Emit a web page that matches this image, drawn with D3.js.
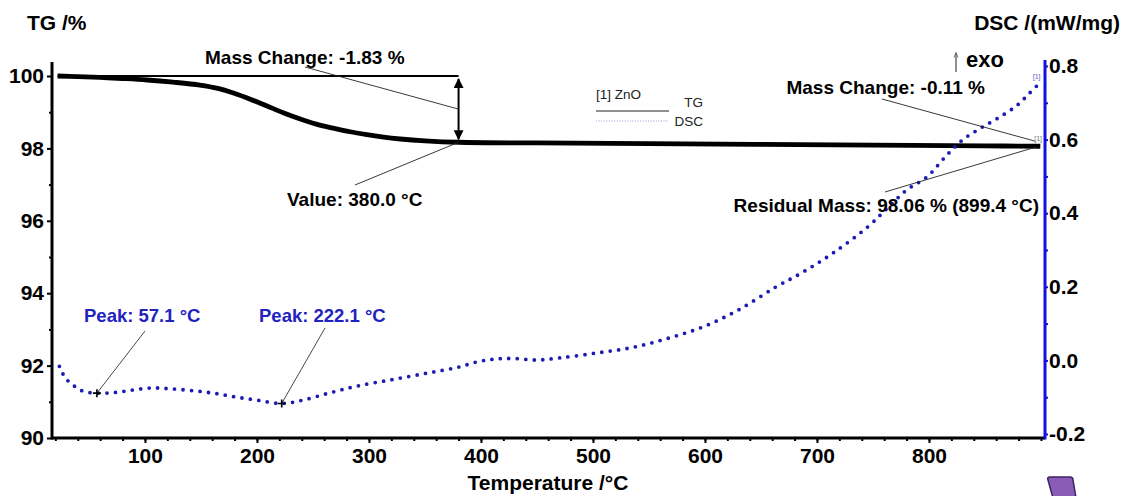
<!DOCTYPE html>
<html>
<head>
<meta charset="utf-8">
<script src="https://cdn.jsdelivr.net/npm/d3@7"></script>
<style>
body{margin:0;background:#fff}
text{font-family:"Liberation Sans",Arial,sans-serif}
</style>
</head>
<body>
<div id="chart"></div>
<script>
// TG curve, mass in %
var tgTemp=[22,40,60,80,102,125,149,165,179,194,209,224,238,253,268,283,298,313,328,350,380,450,550,650,750,850,899.4]
var tgMass=[100.0,99.98,99.96,99.93,99.89,99.83,99.75,99.66,99.53,99.36,99.17,98.98,98.82,98.67,98.56,98.46,98.38,98.31,98.26,98.21,98.17,98.15,98.13,98.11,98.09,98.07,98.06]

// DSC curve, mW/mg
var dscTemp=[23.6,29,37,45,57.1,74,90,106,122,142,161,180,200,222.1,241,264,289,321,353,379,398,414,430,450,471,503,535,567,599,631,663,687,714,745,763,780,798,816,830,846,863,879,890,898]
var dscVal=[-0.016,-0.048,-0.070,-0.084,-0.089,-0.087,-0.080,-0.075,-0.077,-0.082,-0.089,-0.099,-0.108,-0.117,-0.108,-0.089,-0.070,-0.052,-0.034,-0.019,-0.003,0.004,0.005,0.001,0.007,0.020,0.035,0.060,0.092,0.139,0.199,0.239,0.291,0.362,0.414,0.463,0.498,0.558,0.599,0.631,0.661,0.694,0.727,0.751]

// axis ticks
var tempTicks=[100,200,300,400,500,600,700,800]
var tgTicks=[90,92,94,96,98,100]
var dscTicks=[-0.2,0.0,0.2,0.4,0.6,0.8]

// evaluated points
var peakTemp=[57.1,222.1]
var peakVal=[-0.089,-0.117]
var stepStart=100.0, stepEnd=98.17, stepTemp=380.0
var residual=98.06, residualTemp=899.4

var W=1124,H=496
var svg=d3.select("#chart").append("svg").attr("width",W).attr("height",H)

var x=d3.scaleLinear().domain([17,903.6]).range([52,1045])
var yTG=d3.scaleLinear().domain([90,100]).range([438,76])
var yDSC=d3.scaleLinear().domain([-0.2,0.8]).range([434,66])

var blue="#1c1cb4"

var defs=svg.append("defs")
defs.append("marker").attr("id","ah").attr("viewBox","0 0 10 10").attr("refX",9).attr("refY",5)
  .attr("markerWidth",5).attr("markerHeight",5).attr("orient","auto-start-reverse")
  .append("path").attr("d","M0,0L10,5L0,10z").attr("fill","#000")
defs.append("marker").attr("id","ahg").attr("viewBox","0 0 10 10").attr("refX",9).attr("refY",5)
  .attr("markerWidth",4).attr("markerHeight",5).attr("orient","auto")
  .append("path").attr("d","M0,1L10,5L0,9").attr("fill","none").attr("stroke","#555").attr("stroke-width",1.5)

// titles
svg.append("text").attr("x",27).attr("y",30).text("TG /%")
  .style("font-size","21px").style("font-weight","bold")
svg.append("text").attr("x",1120).attr("y",30).attr("text-anchor","end").text("DSC /(mW/mg)")
  .style("font-size","21px").style("font-weight","bold")
svg.append("text").attr("x",548).attr("y",490).attr("text-anchor","middle").text("Temperature /°C")
  .style("font-size","21px").style("font-weight","bold")

// exo arrow
svg.append("line").attr("x1",956).attr("y1",72).attr("x2",956).attr("y2",53)
  .attr("stroke","#555").attr("stroke-width",1.3).attr("marker-end","url(#ahg)")
svg.append("text").attr("x",966).attr("y",67).text("exo")
  .style("font-size","22px").style("font-weight","bold")

// axes
function styleAxis(g,col){
  g.select(".domain").remove()
  g.selectAll(".tick line").attr("stroke",col).attr("stroke-width",2)
  g.selectAll(".tick text").attr("fill","#000").style("font-size","21px").style("font-weight","bold")
    .style("font-family","'Liberation Sans',Arial,sans-serif")
}

var gl=svg.append("g").attr("transform","translate(52,0)")
  .call(d3.axisLeft(yTG).tickValues(tgTicks).tickSize(5).tickPadding(3).tickFormat(d3.format("d")))
styleAxis(gl,"#000")
var glm=svg.append("g").attr("transform","translate(52,0)")
  .call(d3.axisLeft(yTG).tickValues(d3.range(91,100,2)).tickSize(3).tickFormat(""))
styleAxis(glm,"#000")

var gb=svg.append("g").attr("transform","translate(0,438)")
  .call(d3.axisBottom(x).tickValues(tempTicks).tickSize(5).tickPadding(5))
styleAxis(gb,"#000")
var gbm=svg.append("g").attr("transform","translate(0,438)")
  .call(d3.axisBottom(x).tickValues(d3.range(20,901,20)).tickSize(3).tickFormat(""))
styleAxis(gbm,"#000")

var gr=svg.append("g").attr("transform","translate(1045,0)")
  .call(d3.axisRight(yDSC).tickValues(dscTicks).tickSize(3).tickPadding(1).tickFormat(d3.format(".1f")))
styleAxis(gr,"#1010e0")
var grm=svg.append("g").attr("transform","translate(1045,0)")
  .call(d3.axisRight(yDSC).tickValues([-0.1,0.1,0.3,0.5,0.7]).tickSize(3).tickFormat(""))
styleAxis(grm,"#1010e0")
gr.selectAll(".tick text").text(function(d){return d3.format(".1f")(d).replace("−","-")})

// axis lines
svg.append("line").attr("x1",x.range()[0]).attr("x2",x.range()[0]).attr("y1",62).attr("y2",yTG(90)+1.5)
  .attr("stroke","#000").attr("stroke-width",3)
svg.append("line").attr("x1",x.range()[0]).attr("x2",x.range()[1]).attr("y1",yTG(90)).attr("y2",yTG(90))
  .attr("stroke","#000").attr("stroke-width",3)
svg.append("line").attr("x1",x.range()[1]).attr("x2",x.range()[1]).attr("y1",60).attr("y2",yTG(90)+1.5)
  .attr("stroke","#1010e0").attr("stroke-width",3)

// legend
svg.append("text").attr("x",596).attr("y",99).text("[1] ZnO").attr("fill","#222").style("font-size","13.5px")
svg.append("line").attr("x1",596).attr("x2",669).attr("y1",111).attr("y2",111).attr("stroke","#222").attr("stroke-width",1)
svg.append("text").attr("x",703).attr("y",107).attr("text-anchor","end").text("TG").attr("fill","#222").style("font-size","13.5px")
svg.append("line").attr("x1",596).attr("x2",668).attr("y1",121).attr("y2",121).attr("stroke","#8c9cd4")
  .attr("stroke-width",1.2).attr("stroke-dasharray","1,1.6")
svg.append("text").attr("x",703).attr("y",126).attr("text-anchor","end").text("DSC").attr("fill","#222").style("font-size","13.5px")

// data
var tg=tgTemp.map(function(t,i){return {t:t,v:tgMass[i]}})
var dsc=dscTemp.map(function(t,i){return {t:t,v:dscVal[i]}})

var tgLine=d3.line().x(function(d){return x(d.t)}).y(function(d){return yTG(d.v)}).curve(d3.curveCatmullRom)
var dscLine=d3.line().x(function(d){return x(d.t)}).y(function(d){return yDSC(d.v)}).curve(d3.curveCatmullRom)

// mass change step
svg.append("line").attr("x1",x(tgTemp[0])).attr("x2",x(stepTemp)).attr("y1",yTG(stepStart)).attr("y2",yTG(stepStart))
  .attr("stroke","#000").attr("stroke-width",2)
svg.append("line").attr("x1",x(stepTemp)).attr("x2",x(stepTemp)).attr("y1",yTG(stepStart)+3).attr("y2",yTG(stepEnd)-3)
  .attr("stroke","#000").attr("stroke-width",2).attr("marker-start","url(#ah)").attr("marker-end","url(#ah)")

svg.append("path").attr("d",tgLine(tg)).attr("fill","none").attr("stroke","#000").attr("stroke-width",4.8)

svg.append("path").attr("d",dscLine(dsc)).attr("fill","none").attr("stroke",blue)
  .attr("stroke-width",3.8).attr("stroke-linecap","round").attr("stroke-dasharray","0,8.5")

// annotations
function ann(tx,ty,str,col,size,anchor){
  svg.append("text").attr("x",tx).attr("y",ty).attr("text-anchor",anchor||"start").text(str)
    .attr("fill",col).style("font-size",size).style("font-weight","bold")
}
function lead(x1,y1,x2,y2,col){
  svg.append("line").attr("x1",x1).attr("y1",y1).attr("x2",x2).attr("y2",y2)
    .attr("stroke",col).attr("stroke-width",0.9)
}

ann(205,64,"Mass Change: "+d3.format(".2f")(stepEnd-stepStart).replace("−","-")+" %","#000","19px")
lead(305,67,x(stepTemp),yTG((stepStart+stepEnd)/2),"#222")
ann(287,206,"Value: "+d3.format(".1f")(stepTemp)+" °C","#000","19px")
lead(355,185,x(stepTemp),yTG(stepEnd),"#222")

ann(985,94,"Mass Change: "+d3.format(".2f")(residual-stepEnd).replace("−","-")+" %","#000","19px","end")
lead(882,99,x(895),yTG(stepEnd)-1,"#222")
ann(1039,212,"Residual Mass: "+d3.format(".2f")(residual)+" % ("+d3.format(".1f")(residualTemp)+" °C)","#000","19px","end")
lead(885,192,x(895),yTG(residual)+1,"#222")

// peaks
var labelX=[84,259], labelLead=[[145,331],[325,328]]
peakTemp.forEach(function(t,i){
  var px=x(t),py=yDSC(peakVal[i])
  lead(labelLead[i][0],labelLead[i][1],px,py,"#334")
  svg.append("path").attr("d","M"+(px-4)+","+py+"h8M"+px+","+(py-4)+"v8").attr("stroke","#000").attr("stroke-width",1.6)
  ann(labelX[i],322,"Peak: "+d3.format(".1f")(t)+" °C","#2222c0","18.5px")
})

// curve labels
svg.append("text").attr("x",x(dscTemp[dscTemp.length-1])-6).attr("y",yDSC(dscVal[dscVal.length-1])-5)
  .text("[1]").attr("fill","#5060c0").style("font-size","7px")
svg.append("text").attr("x",x(residualTemp)-6).attr("y",yTG(residual)-5)
  .text("[1]").attr("fill","#777").style("font-size","7px")

// corner mark
svg.append("path").attr("d","M1048,480Q1047,477 1050,477L1070,477Q1073,477 1073,480L1076,498L1053,498Z")
  .attr("fill","#8a5cb8").attr("stroke","#3e2260").attr("stroke-width",1.5)
</script>
</body>
</html>
